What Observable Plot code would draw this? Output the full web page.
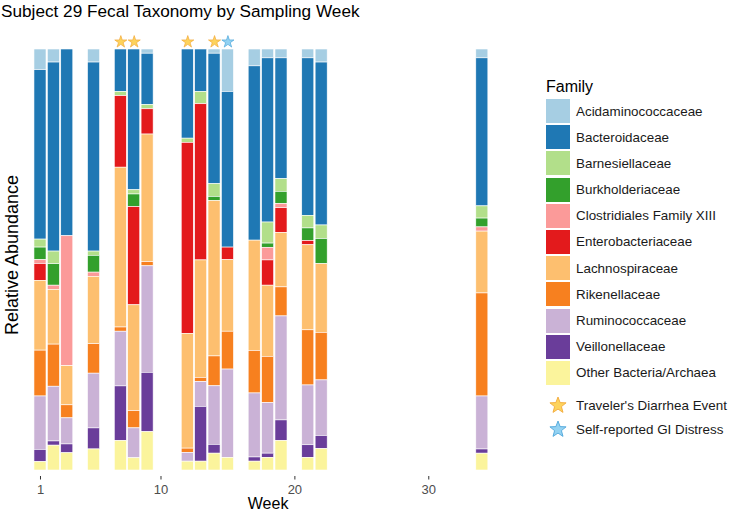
<!DOCTYPE html>
<html>
<head>
<meta charset="utf-8">
<script src="https://cdn.jsdelivr.net/npm/d3@7"></script>
<script src="https://cdn.jsdelivr.net/npm/@observablehq/plot@0.6"></script>
<style>
  body { margin: 0; background: #fff; font-family: "Liberation Sans", Arial, Helvetica, sans-serif; }
  #wrap { position: relative; width: 730px; height: 512px; overflow: hidden; background: #fff; }
  #title { position: absolute; left: 1px; top: 0px; font-size: 17.2px; line-height: 22px; color: #000; white-space: nowrap; }
  #chart { position: absolute; left: 0; top: 24px; }
  #legend { position: absolute; left: 546px; top: 77px; color: #1a1a1a; }
  #legend .ltitle { font-size: 16px; line-height: 20px; height: 22px; color: #000; }
  #legend .row { display: flex; align-items: center; height: 24px; margin-bottom: 2.2px; font-size: 13.4px; white-space: nowrap; }
  #legend .key { width: 24px; height: 24px; margin-right: 6px; flex: none; }
  #legend .srow { display: flex; align-items: center; height: 24px; font-size: 13.4px; white-space: nowrap; }
  #legend .skey { width: 24px; height: 24px; margin-right: 6px; flex: none; display: flex; align-items: center; justify-content: center; }
</style>
</head>
<body>
<div id="wrap">
  <div id="title">Subject 29 Fecal Taxonomy by Sampling Week</div>
  <div id="chart"></div>
  <div id="legend"></div>
</div>
<script>
// ---- data ----
const weeks = [1, 2, 3, 5, 7, 8, 9, 12, 13, 14, 15, 17, 18, 19, 21, 22, 34];
const families = [
  "Acidaminococcaceae", "Bacteroidaceae", "Barnesiellaceae", "Burkholderiaceae",
  "Clostridiales Family XIII", "Enterobacteriaceae", "Lachnospiraceae", "Rikenellaceae",
  "Ruminococcaceae", "Veillonellaceae", "Other Bacteria/Archaea"
];
const colors = ["#a6cee3", "#1f78b4", "#b2df8a", "#33a02c", "#fb9a99", "#e31a1c",
  "#fdbf6f", "#f7801f", "#cab2d6", "#6a3d9a", "#fbf49c"];

// percent abundance per family, one value per week (in weeks order)
const acidaminococcaceae = [4.9, 3.1, 0, 3.1, 0, 0, 1.0, 0, 0, 1.0, 10.1, 4.0, 2.1, 2.1, 2.1, 3.1, 2.1];
const bacteroidaceae     = [40.3, 44.9, 44.4, 44.9, 10.1, 33.4, 12.2, 21.2, 10.1, 31.0, 37.0, 41.4, 39.0, 28.7, 37.4, 38.7, 35.2];
const barnesiellaceae    = [1.9, 3.0, 0, 1.0, 1.0, 1.0, 1.0, 1.0, 2.9, 3.0, 0, 0, 5.0, 3.0, 3.0, 3.2, 2.9];
const burkholderiaceae   = [3.0, 5.1, 0, 4.0, 0, 3.0, 0, 0, 0, 1.0, 0, 0, 1.0, 2.9, 3.0, 6.0, 2.1];
const clostridialesXIII  = [0.9, 1.0, 30.9, 1.0, 0, 0, 0, 0, 0, 0, 0, 0, 3.0, 1.0, 0, 0, 1.0];
const enterobacteriaceae = [4.0, 0, 0, 0, 17.0, 23.3, 6.0, 45.4, 37.1, 0, 3.0, 0, 6.0, 5.9, 1.0, 0, 0];
const lachnospiraceae    = [16.6, 13.0, 9.3, 16.0, 38.0, 25.1, 30.3, 27.3, 27.9, 36.9, 17.0, 26.2, 16.9, 12.9, 20.2, 16.3, 14.7];
const rikenellaceae      = [10.9, 10.0, 3.1, 7.0, 1.0, 4.1, 1.0, 1.0, 1.0, 7.1, 9.0, 10.1, 11.0, 6.9, 13.1, 11.3, 24.5];
const ruminococcaceae    = [12.7, 13.0, 6.2, 13.0, 13.0, 7.1, 25.3, 2.1, 5.9, 13.9, 21.0, 15.2, 12.0, 24.7, 14.2, 13.2, 12.6];
const veillonellaceae    = [2.9, 1.0, 2.1, 5.0, 13.0, 0, 14.1, 0, 13.0, 2.1, 0, 1.0, 1.0, 4.9, 3.0, 3.1, 1.0];
const otherBacteria      = [2.0, 5.9, 4.1, 5.0, 7.0, 2.9, 9.1, 2.1, 2.1, 4.0, 3.0, 2.1, 3.0, 7.0, 3.0, 5.1, 4.0];

const travelersDiarrheaWeeks = [7, 8, 12, 14];
const giDistressWeeks = [15];
const xTicks = [1, 10, 20, 30];

// ---- build table ----
const series = [acidaminococcaceae, bacteroidaceae, barnesiellaceae, burkholderiaceae,
  clostridialesXIII, enterobacteriaceae, lachnospiraceae, rikenellaceae,
  ruminococcaceae, veillonellaceae, otherBacteria];
const rows = [];
families.forEach((f, i) => weeks.forEach((w, j) => {
  if (series[i][j] > 0) rows.push({week: w, family: f, value: series[i][j]});
}));
const stackOrder = families.slice().reverse();
const starLevel = 1.018;

const font = '"Liberation Sans", Arial, Helvetica, sans-serif';

const chart = Plot.plot({
  width: 520,
  height: 488,
  marginLeft: 26.6,
  marginRight: 11.4,
  marginTop: 25,
  marginBottom: 36,
  style: {fontFamily: font, background: "white", overflow: "visible"},
  x: {domain: [0, 36]},
  y: {domain: [0, 1], insetBottom: 6, axis: null},
  color: {domain: families, range: colors},
  marks: [
    Plot.rectY(rows, Plot.stackY({
      x1: d => d.week - 0.45,
      x2: d => d.week + 0.45,
      y: "value",
      z: "family",
      fill: "family",
      order: stackOrder,
      offset: "normalize",
      stroke: "white",
      strokeWidth: 0.6
    })),
    Plot.dot(travelersDiarrheaWeeks, {x: d => d, y: () => starLevel, symbol: "star", r: 3.8,
      fill: "#fdd35c", stroke: "#f2a93b", strokeWidth: 0.7}),
    Plot.dot(giDistressWeeks, {x: d => d, y: () => starLevel, symbol: "star", r: 3.8,
      fill: "#93d2f2", stroke: "#4ea6da", strokeWidth: 0.7}),
    Plot.axisX({ticks: xTicks, tickSize: 3.5, tickFormat: () => "", color: "#333", label: null}),
    Plot.text(xTicks, {x: d => d, text: d => String(d), frameAnchor: "bottom", lineAnchor: "middle",
      dy: 13, fontSize: 13, fill: "#4d4d4d"}),
    Plot.text(["Week"], {text: d => d, frameAnchor: "bottom", lineAnchor: "middle", dy: 27, fontSize: 16, fill: "#000"}),
    Plot.text(["Relative Abundance"], {text: d => d, frameAnchor: "left", textAnchor: "middle", lineAnchor: "middle",
      rotate: -90, dx: -15, dy: -8, fontSize: 18, fill: "#000"})
  ]
});
document.getElementById("chart").appendChild(chart);

// ---- legend ----
const legend = document.getElementById("legend");
const lt = document.createElement("div");
lt.className = "ltitle";
lt.textContent = "Family";
legend.appendChild(lt);
families.forEach((f, i) => {
  const r = document.createElement("div");
  r.className = "row";
  const k = document.createElement("div");
  k.className = "key";
  k.style.background = colors[i];
  const t = document.createElement("span");
  t.textContent = f;
  r.appendChild(k); r.appendChild(t);
  legend.appendChild(r);
});
function starSvg(fill, stroke) {
  const pts = [];
  for (let i = 0; i < 10; i++) {
    const a = -Math.PI / 2 + i * Math.PI / 5;
    const rr = i % 2 === 0 ? 8.5 : 3.6;
    pts.push((9 + rr * Math.cos(a)).toFixed(2) + "," + (9.5 + rr * Math.sin(a)).toFixed(2));
  }
  return `<svg width="18" height="18" viewBox="0 0 18 18"><polygon points="${pts.join(" ")}" fill="${fill}" stroke="${stroke}" stroke-width="0.9" stroke-linejoin="round"/></svg>`;
}
const spacer = document.createElement("div");
spacer.style.height = "6px";
legend.appendChild(spacer);
[["Traveler's Diarrhea Event", "#fdd35c", "#f2a93b"], ["Self-reported GI Distress", "#93d2f2", "#4ea6da"]].forEach(([label, fill, stroke]) => {
  const r = document.createElement("div");
  r.className = "srow";
  const k = document.createElement("div");
  k.className = "skey";
  k.innerHTML = starSvg(fill, stroke);
  const t = document.createElement("span");
  t.textContent = label;
  r.appendChild(k); r.appendChild(t);
  legend.appendChild(r);
});
</script>
</body>
</html>
